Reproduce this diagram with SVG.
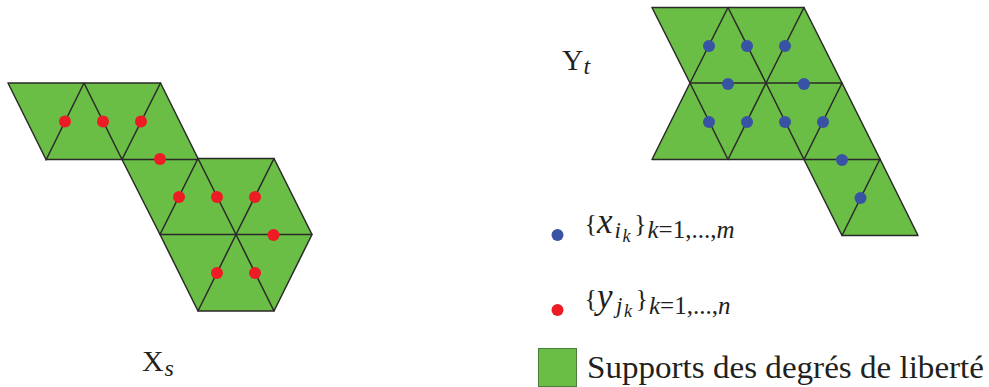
<svg xmlns="http://www.w3.org/2000/svg" width="989" height="387" viewBox="0 0 989 387">
<style>
.tri{fill:#6abd45;stroke:none}
.edge{fill:none;stroke:#2b2a29;stroke-width:1.5;stroke-linecap:round;stroke-linejoin:round}
.r{fill:#ed1c24}
.b{fill:#3953a4}
text{font-family:"Liberation Serif","Times New Roman",serif;fill:#231f20}
.it{font-style:italic}
</style>
<g id="mesh-xs">
<path class="tri" d="M8 83H160.500L198 158.500H274L312 234.500L274 311H198L160 234.500L122 159.500H46Z"/>
<path class="edge" d="M8 83H160.500L198 158.500H274L312 234.500L274 311H198L160 234.500L122 159.500H46Z"/>
<path class="edge" d="M46 160L84 83L122 159.500L160.500 83M122 159.500H198M160 234.500H312M198 158.500L236 234.500L274 158.500M198 311L236 234.500L274 311M198 158.500L160 234.500"/>
</g>
<g id="mesh-yt">
<path class="tri" d="M652 7.500H804L842 83L880 159L918 235.500H842L804 159.500H652L690 83Z"/>
<path class="edge" d="M652 7.500H804L842 83L880 159L918 235.500H842L804 159.500H652L690 83Z"/>
<path class="edge" d="M690 83L728 7.500L766 83L804 7.500M690 83H842M690 83L728 159.500L766 83L804 159.500L842 83M804 159.500H880M880 159L842 235.500"/>
</g>
<g id="dofs-xs">
<circle class="r" cx="65" cy="121.500" r="6"/><circle class="r" cx="103" cy="121.500" r="6"/><circle class="r" cx="141" cy="121.500" r="6"/><circle class="r" cx="160" cy="159" r="6"/><circle class="r" cx="179" cy="197" r="6"/><circle class="r" cx="217" cy="197" r="6"/><circle class="r" cx="255" cy="197" r="6"/><circle class="r" cx="273.500" cy="235" r="6"/><circle class="r" cx="217" cy="273" r="6"/><circle class="r" cx="255" cy="273" r="6"/>
</g>
<g id="dofs-yt">
<circle class="b" cx="709" cy="46" r="6"/><circle class="b" cx="747" cy="46" r="6"/><circle class="b" cx="785" cy="46" r="6"/><circle class="b" cx="728" cy="84" r="6"/><circle class="b" cx="804" cy="84" r="6"/><circle class="b" cx="709" cy="122" r="6"/><circle class="b" cx="747" cy="122" r="6"/><circle class="b" cx="785" cy="122" r="6"/><circle class="b" cx="823" cy="122" r="6"/><circle class="b" cx="842" cy="160" r="6"/><circle class="b" cx="860.500" cy="198" r="6"/>
</g>
<g id="label-xs"><text x="142" y="371" font-size="30">X</text><text class="it" x="164.500" y="376" font-size="24">s</text></g>
<g id="label-yt"><text x="562" y="69.500" font-size="29.500">Y</text><text class="it" x="583.500" y="74" font-size="24">t</text></g>
<g id="legend-x">
<circle class="b" cx="557.500" cy="235" r="6"/>
<text x="584.500" y="232" font-size="26">{</text>
<text class="it" x="597" y="233" font-size="35">x</text>
<text class="it" x="614.500" y="237.500" font-size="23">i</text>
<text class="it" x="622.500" y="242" font-size="18">k</text>
<text x="634" y="232" font-size="26">}</text>
<text x="647.500" y="238" font-size="25"><tspan class="it">k</tspan>=1,...,<tspan class="it">m</tspan></text>
</g>
<g id="legend-y">
<circle class="r" cx="557.500" cy="310" r="6"/>
<text x="584.500" y="307" font-size="26">{</text>
<text class="it" x="597" y="308" font-size="35">y</text>
<text class="it" x="616" y="313" font-size="23">j</text>
<text class="it" x="624" y="317" font-size="18">k</text>
<text x="635.500" y="307" font-size="26">}</text>
<text x="649" y="314" font-size="25"><tspan class="it">k</tspan>=1,...,<tspan class="it">n</tspan></text>
</g>
<g id="legend-support">
<rect x="538.500" y="348.500" width="38" height="38" fill="#6abd45" stroke="#4a7c3a" stroke-width="1"/>
<text x="587" y="378" font-size="32" textLength="397" lengthAdjust="spacingAndGlyphs">Supports des degrés de liberté</text>
</g>
</svg>
